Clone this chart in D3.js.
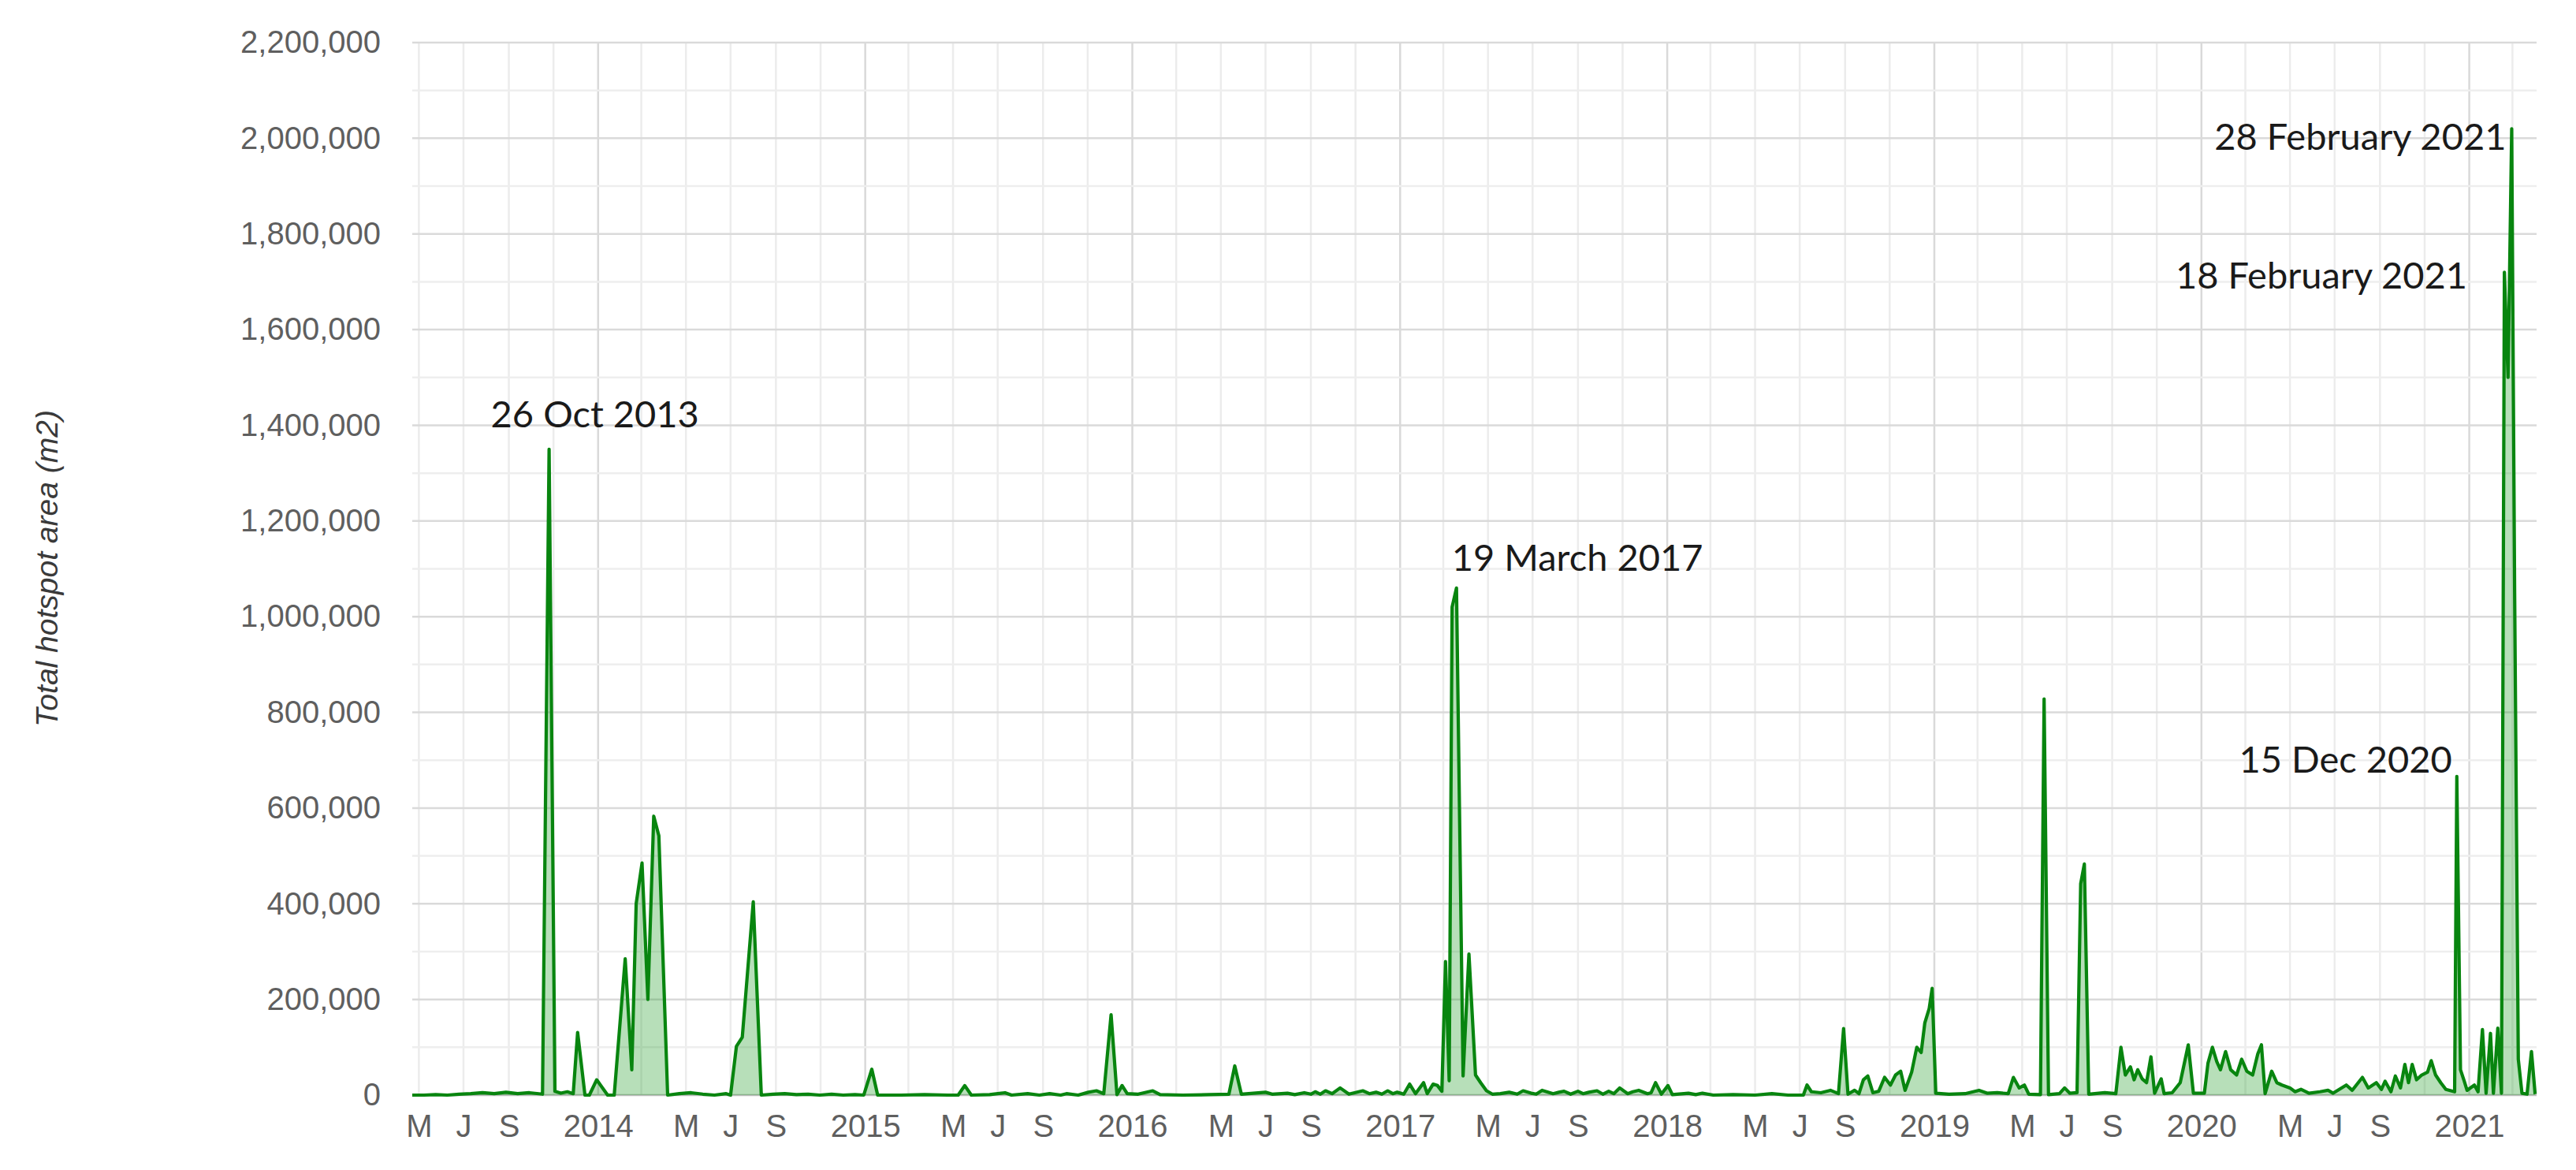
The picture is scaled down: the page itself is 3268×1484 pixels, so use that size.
<!DOCTYPE html>
<html>
<head>
<meta charset="utf-8">
<script src="https://cdn.jsdelivr.net/npm/d3@7/dist/d3.min.js"></script>
<style>
  body { margin: 0; background: #fff; }
  svg { display: block; }
  .tick text { font-family: "Liberation Sans", Arial, sans-serif; font-size: 40px; fill: #5f5f5f; }
  .annot { font-family: Lato, "Open Sans", sans-serif; font-size: 47px; fill: #1a1a1a; }
</style>
</head>
<body>
<svg id="chart" width="3268" height="1484"></svg>
<script>
// total hotspot area per acquisition date
var year2013 = [
  ["2013-04-22",0],["2013-05-08",0],["2013-05-24",1000],["2013-06-09",0],["2013-06-25",2000],
  ["2013-07-11",3000],["2013-07-27",5000],["2013-08-12",3000],["2013-08-28",6000],["2013-09-13",3000],
  ["2013-09-29",5000],["2013-10-17",2000],["2013-10-26",1350000],["2013-11-03",8000],["2013-11-11",4000],
  ["2013-11-20",7000],["2013-11-28",3000],["2013-12-04",131000],["2013-12-14",0],["2013-12-20",0],
  ["2013-12-30",32000]
];
var year2014 = [
  ["2014-01-14",0],["2014-01-23",0],["2014-02-07",285000],["2014-02-16",53000],["2014-02-22",400000],
  ["2014-03-02",485000],["2014-03-10",200000],["2014-03-18",583000],["2014-03-25",542000],["2014-04-06",0],
  ["2014-04-22",3000],["2014-05-08",5000],["2014-05-24",2000],["2014-06-09",0],["2014-06-25",3000],
  ["2014-07-01",0],["2014-07-09",102000],["2014-07-17",121000],["2014-08-01",404000],["2014-08-12",0],
  ["2014-08-28",2000],["2014-09-13",3000],["2014-09-29",1000],["2014-10-15",2000],["2014-10-31",0],
  ["2014-11-16",2000],["2014-12-02",0],["2014-12-18",1000],["2014-12-30",0]
];
var year2015 = [
  ["2015-01-10",54000],["2015-01-18",0],["2015-02-19",0],["2015-03-23",1000],["2015-04-24",0],
  ["2015-05-08",0],["2015-05-17",20000],["2015-05-26",0],["2015-06-20",1000],["2015-07-11",5000],
  ["2015-07-20",0],["2015-08-11",3000],["2015-08-27",0],["2015-09-10",3000],["2015-09-25",0],
  ["2015-10-03",3000],["2015-10-19",0],["2015-11-02",6000],["2015-11-13",9000],["2015-11-23",3000],
  ["2015-12-03",168000],["2015-12-11",1000],["2015-12-18",20000],["2015-12-25",3000]
];
var year2016 = [
  ["2016-01-09",2000],["2016-01-29",9000],["2016-02-08",1000],["2016-03-10",0],["2016-04-15",1000],
  ["2016-05-12",2000],["2016-05-20",61000],["2016-05-29",2000],["2016-07-01",6000],["2016-07-10",2000],
  ["2016-07-31",4000],["2016-08-10",1000],["2016-08-23",5000],["2016-09-01",2000],["2016-09-07",7000],
  ["2016-09-14",2000],["2016-09-21",9000],["2016-09-30",3000],["2016-10-11",15000],["2016-10-23",2000],
  ["2016-11-11",9000],["2016-11-20",3000],["2016-11-29",6000],["2016-12-07",2000],["2016-12-15",9000],
  ["2016-12-22",3000],["2016-12-28",6000]
];
var year2017 = [
  ["2017-01-06",2000],["2017-01-14",23000],["2017-01-22",3000],["2017-02-02",26000],["2017-02-07",3000],
  ["2017-02-15",23000],["2017-02-21",20000],["2017-02-27",8000],["2017-03-04",279000],["2017-03-09",30000],
  ["2017-03-13",1020000],["2017-03-19",1060000],["2017-03-28",40000],["2017-04-05",295000],["2017-04-14",42000],
  ["2017-04-21",26000],["2017-04-29",9000],["2017-05-07",2000],["2017-05-18",3000],["2017-05-30",6000],
  ["2017-06-10",2000],["2017-06-18",9000],["2017-06-29",4000],["2017-07-06",2000],["2017-07-14",10000],
  ["2017-07-29",3000],["2017-08-06",6000],["2017-08-13",8000],["2017-08-22",2000],["2017-09-01",8000],
  ["2017-09-08",3000],["2017-09-16",6000],["2017-09-27",9000],["2017-10-05",2000],["2017-10-13",8000],
  ["2017-10-20",3000],["2017-10-28",15000],["2017-11-08",3000],["2017-11-15",7000],["2017-11-23",10000],
  ["2017-12-05",3000],["2017-12-10",5000],["2017-12-16",26000],["2017-12-24",2000]
];
var year2018 = [
  ["2018-01-02",20000],["2018-01-08",1000],["2018-01-30",4000],["2018-02-09",1000],["2018-02-18",4000],
  ["2018-03-05",0],["2018-04-01",1000],["2018-05-01",0],["2018-05-24",3000],["2018-06-15",0],
  ["2018-07-06",0],["2018-07-11",21000],["2018-07-17",7000],["2018-07-30",5000],["2018-08-12",10000],
  ["2018-08-23",3000],["2018-08-30",139000],["2018-09-05",2000],["2018-09-14",10000],["2018-09-20",3000],
  ["2018-09-26",32000],["2018-10-02",40000],["2018-10-09",5000],["2018-10-17",8000],["2018-10-25",37000],
  ["2018-11-02",21000],["2018-11-09",42000],["2018-11-16",50000],["2018-11-22",10000],["2018-12-01",48000],
  ["2018-12-08",100000],["2018-12-14",89000],["2018-12-19",151000],["2018-12-25",181000],["2018-12-29",223000]
];
var year2019 = [
  ["2019-01-03",4000],["2019-01-21",2000],["2019-02-12",3000],["2019-03-03",10000],["2019-03-14",4000],
  ["2019-03-28",5000],["2019-04-12",3000],["2019-04-19",37000],["2019-04-27",15000],["2019-05-04",21000],
  ["2019-05-10",2000],["2019-05-26",1000],["2019-05-31",828000],["2019-06-06",1000],["2019-06-21",3000],
  ["2019-06-28",15000],["2019-07-05",4000],["2019-07-15",5000],["2019-07-20",442000],["2019-07-25",483000],
  ["2019-07-31",2000],["2019-08-22",5000],["2019-09-06",3000],["2019-09-13",100000],["2019-09-19",42000],
  ["2019-09-26",59000],["2019-10-01",32000],["2019-10-06",53000],["2019-10-12",34000],["2019-10-18",26000],
  ["2019-10-24",80000],["2019-10-29",4000],["2019-11-07",34000],["2019-11-11",3000],["2019-11-22",5000],
  ["2019-12-03",26000],["2019-12-14",105000],["2019-12-21",4000]
];
var year2020 = [
  ["2020-01-05",4000],["2020-01-10",67000],["2020-01-16",100000],["2020-01-22",70000],["2020-01-27",53000],
  ["2020-02-03",91000],["2020-02-10",53000],["2020-02-18",42000],["2020-02-25",75000],["2020-03-03",50000],
  ["2020-03-11",42000],["2020-03-18",86000],["2020-03-23",105000],["2020-03-28",3000],["2020-04-06",50000],
  ["2020-04-13",26000],["2020-04-20",21000],["2020-05-01",15000],["2020-05-08",7000],["2020-05-16",12000],
  ["2020-05-27",4000],["2020-06-11",7000],["2020-06-22",10000],["2020-06-29",4000],["2020-07-17",21000],
  ["2020-07-25",10000],["2020-08-08",37000],["2020-08-16",15000],["2020-08-27",26000],["2020-09-03",12000],
  ["2020-09-08",29000],["2020-09-16",7000],["2020-09-22",40000],["2020-09-29",15000],["2020-10-05",64000],
  ["2020-10-10",26000],["2020-10-15",64000],["2020-10-21",32000],["2020-10-28",42000],["2020-11-05",48000],
  ["2020-11-10",72000],["2020-11-16",42000],["2020-11-23",26000],["2020-11-30",12000],["2020-12-12",7000],
  ["2020-12-15",666000],["2020-12-20",53000],["2020-12-25",30000],["2020-12-29",10000]
];
var year2021 = [
  ["2021-01-08",21000],["2021-01-13",7000],["2021-01-19",137000],["2021-01-24",4000],["2021-01-30",129000],
  ["2021-02-03",4000],["2021-02-09",140000],["2021-02-14",4000],["2021-02-18",1720000],["2021-02-23",1500000],
  ["2021-02-28",2020000],["2021-03-04",1050000],["2021-03-09",75000],["2021-03-14",4000],["2021-03-21",2000],
  ["2021-03-27",91000],["2021-04-01",2000]
];

var yTicks = [0, 200000, 400000, 600000, 800000, 1000000, 1200000, 1400000, 1600000, 1800000, 2000000, 2200000];
var yMinor = [100000, 300000, 500000, 700000, 900000, 1100000, 1300000, 1500000, 1700000, 1900000, 2100000];
var monthTickLabels = {4: "M", 6: "J", 8: "S"};   // January ticks show the year
var yTitle = "Total hotspot area (m2)";

var annotDates = ["2013-10-26", "2017-03-19", "2020-12-15", "2021-02-18", "2021-02-28"];
var annotValues = [1350000, 1060000, 666000, 1720000, 2020000];
var annotTexts = ["26 Oct 2013", "19 March 2017", "15 Dec 2020", "18 February 2021", "28 February 2021"];

var parse = d3.timeParse("%Y-%m-%d");
var series = [].concat(year2013, year2014, year2015, year2016, year2017,
                       year2018, year2019, year2020, year2021)
  .map(function(d) { return {date: parse(d[0]), value: d[1]}; });

var plotL = 523, plotR = 3218, plotT = 54, plotB = 1389;
var svg = d3.select("#chart");

var x = d3.scaleTime()
  .domain([parse("2013-04-22"), parse("2021-04-03")])
  .range([plotL, plotR]);
var y = d3.scaleLinear().domain([0, 2200000]).range([plotB, plotT]);

// grid
var grid = svg.append("g");
var months = d3.timeMonth.every(2).range(x.domain()[0], x.domain()[1]);
grid.selectAll("line.v").data(months).enter().append("line")
  .attr("x1", function(d) { return x(d); }).attr("x2", function(d) { return x(d); })
  .attr("y1", plotT).attr("y2", plotB)
  .attr("stroke", function(d) { return d.getMonth() === 0 ? "#d9d9d9" : "#ececec"; })
  .attr("stroke-width", 2.5);
grid.selectAll("line.hm").data(yMinor).enter().append("line")
  .attr("x1", plotL).attr("x2", plotR)
  .attr("y1", function(d) { return y(d); }).attr("y2", function(d) { return y(d); })
  .attr("stroke", "#eeeeee").attr("stroke-width", 2.5);
grid.selectAll("line.h").data(yTicks).enter().append("line")
  .attr("x1", plotL).attr("x2", plotR)
  .attr("y1", function(d) { return y(d); }).attr("y2", function(d) { return y(d); })
  .attr("stroke", function(d) { return d === 0 ? "#bdbdbd" : "#dadada"; })
  .attr("stroke-width", 2.5);

// series
var area = d3.area()
  .x(function(d) { return x(d.date); })
  .y0(y(0))
  .y1(function(d) { return y(d.value); });
var line = d3.line()
  .x(function(d) { return x(d.date); })
  .y(function(d) { return y(d.value); });

svg.append("path").datum(series)
  .attr("d", area)
  .attr("fill", "#109618").attr("fill-opacity", 0.3);
svg.append("path").datum(series)
  .attr("d", line)
  .attr("fill", "none")
  .attr("stroke", "#08850f")
  .attr("stroke-width", 4.2)
  .attr("stroke-linejoin", "round");

// axes
var yAxis = d3.axisLeft(y).tickValues(yTicks).tickFormat(d3.format(",")).tickSize(0).tickPadding(40);
svg.append("g").attr("transform", "translate(" + plotL + ",0)").call(yAxis)
  .call(function(g) { g.select(".domain").remove(); });

var labelTicks = months.filter(function(d) {
  return d.getMonth() === 0 || monthTickLabels[d.getMonth()];
});
var xAxis = d3.axisBottom(x).tickValues(labelTicks).tickSize(0).tickPadding(25)
  .tickFormat(function(d) {
    return d.getMonth() === 0 ? d3.timeFormat("%Y")(d) : monthTickLabels[d.getMonth()];
  });
svg.append("g").attr("transform", "translate(0," + plotB + ")").call(xAxis)
  .call(function(g) { g.select(".domain").remove(); });

svg.append("text")
  .attr("transform", "translate(73,721) rotate(-90)")
  .attr("text-anchor", "middle")
  .style("font-family", "'Liberation Sans', Arial, sans-serif")
  .style("font-style", "italic")
  .style("font-size", "39px")
  .style("fill", "#3a3a3a")
  .text(yTitle);

// peak labels
var annotOffsets = [
  {dx: -74, dy: -28, anchor: "start"},
  {dx: -6,  dy: -22, anchor: "start"},
  {dx: -6,  dy: -5,  anchor: "end"},
  {dx: -47, dy: 21,  anchor: "end"},
  {dx: -7,  dy: 27,  anchor: "end"}
];
annotTexts.forEach(function(t, i) {
  var o = annotOffsets[i];
  svg.append("text").attr("class", "annot")
    .attr("x", x(parse(annotDates[i])) + o.dx)
    .attr("y", y(annotValues[i]) + o.dy)
    .attr("text-anchor", o.anchor)
    .text(t);
});
</script>
</body>
</html>
